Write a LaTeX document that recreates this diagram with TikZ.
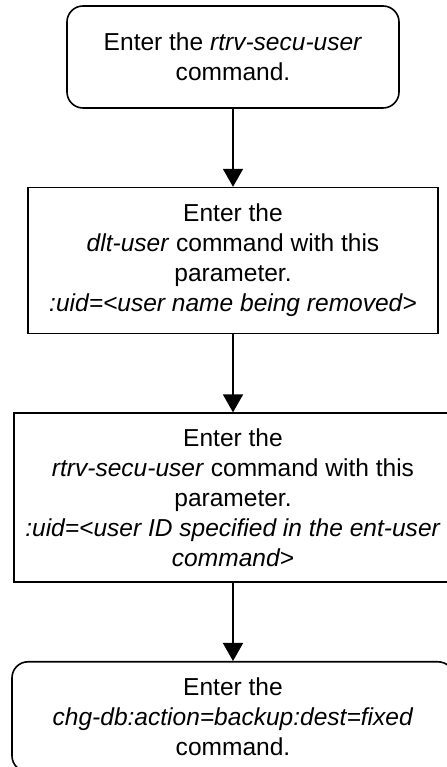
\documentclass[tikz,border=0pt]{standalone}
\usepackage{fontspec}
\setmainfont{Liberation Sans}
\usepackage{tikz}
\usetikzlibrary{arrows.meta,positioning}

\begin{document}
\begin{tikzpicture}[
  x=0.75pt, y=0.75pt,
  node distance=58.5pt,
  stepbox/.style={draw, line width=1.2pt, align=center, inner sep=0pt, font=\fontsize{18.4}{22.5}\selectfont},
  termbox/.style={stepbox, rounded corners=12pt},
  arr/.style={-{Triangle[length=13.5pt, width=15pt]}, line width=1.2pt}
]
\useasboundingbox (0,0) rectangle (446,767);
\node[termbox, minimum width=249pt, minimum height=76.5pt] (start) at (233,710) {Enter the \textit{rtrv-secu-user}\\command.};
\node[stepbox, below=of start, minimum width=307.5pt, minimum height=109.5pt] (deluser) {Enter the\\\textit{dlt-user} command with this\\parameter.\\\textit{:uid=<user name being removed>}};
\node[stepbox, below=of deluser, minimum width=328.5pt, minimum height=126.75pt] (chkuser) {Enter the\\\textit{rtrv-secu-user} command with this\\parameter.\\\textit{:uid=<user ID specified in the ent-user}\\\textit{command>}};
\node[termbox, below=of chkuser, minimum width=331.5pt, minimum height=82.5pt] (backup) {Enter the\\\textit{chg-db:action=backup:dest=fixed}\\command.};
\draw[arr] (start) -- (deluser);
\draw[arr] (deluser) -- (chkuser);
\draw[arr] (chkuser) -- (backup);
\end{tikzpicture}
\end{document}
